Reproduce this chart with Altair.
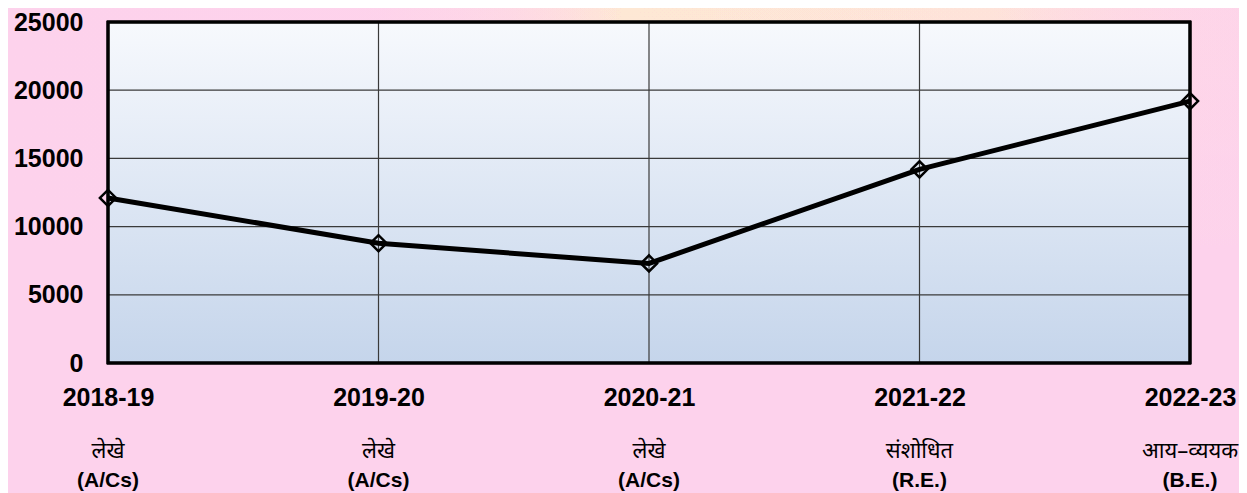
import altair as alt
import pandas as pd

years = ["2018-19", "2019-20", "2020-21", "2021-22", "2022-23"]
values = [12100, 8780, 7300, 14200, 19200]
hindi = ["लेखे", "लेखे", "लेखे", "संशोधित", "आय–व्ययक"]
english = ["(A/Cs)", "(A/Cs)", "(A/Cs)", "(R.E.)", "(B.E.)"]
y_ticks = [0, 5000, 10000, 15000, 20000, 25000]
grid_y = [5000, 10000, 15000, 20000]

W, H = 1082, 341
FONT = "Liberation Sans"
PAD = {"left": 100, "top": 14, "right": 49, "bottom": 130}

df = pd.DataFrame({"year": years, "value": values, "hindi": hindi, "english": english})
grid_df = pd.DataFrame({"value": grid_y})
vgrid_df = pd.DataFrame({"year": years[1:-1]})

xscale = alt.Scale(type="point", domain=years, padding=0)
yscale = alt.Scale(type="linear", domain=[0, 25000], nice=False)

x_axis = alt.Axis(title=None, grid=False, domain=False, ticks=False, tickSize=0, zindex=2,
                  labelFont=FONT, labelFontSize=25, labelFontWeight="bold",
                  labelColor="black", labelPadding=22, labelAngle=0, labelFlush=False)
y_axis = alt.Axis(title=None, grid=False, domain=False, ticks=False, tickSize=0, zindex=2,
                  values=y_ticks, format="d", labelFont=FONT, labelFontSize=25,
                  labelFontWeight="bold", labelColor="black", labelPadding=25,
                  labelFlush=False)

X = alt.X("year:N", scale=xscale, sort=years, axis=x_axis)
Y = alt.Y("value:Q", scale=yscale, axis=y_axis)

base = alt.Chart(df)

full = dict(x=alt.value(-PAD["left"]), x2=alt.value(W + PAD["right"]),
            y=alt.value(-PAD["top"]), y2=alt.value(H + PAD["bottom"]))

bg_pink = base.mark_rect(fill="#FDD2EC").encode(**full)
bg_peach = base.mark_rect(
    fill=alt.LinearGradient(gradient="linear", x1=0, y1=0, x2=0, y2=1,
                            stops=[alt.GradientStop(offset=0, color="rgba(254,232,212,1)"),
                                   alt.GradientStop(offset=0.2, color="rgba(254,228,220,0.7)"),
                                   alt.GradientStop(offset=0.5, color="rgba(253,214,232,0)"),
                                   alt.GradientStop(offset=1, color="rgba(253,210,236,0)")])
).encode(**full)
bg_side = base.mark_rect(
    fill=alt.LinearGradient(gradient="linear", x1=0, y1=0, x2=1, y2=0,
                            stops=[alt.GradientStop(offset=0, color="rgba(253,210,236,1)"),
                                   alt.GradientStop(offset=0.15, color="rgba(253,210,236,0.8)"),
                                   alt.GradientStop(offset=0.5, color="rgba(253,210,236,0)"),
                                   alt.GradientStop(offset=0.8, color="rgba(253,210,236,0.05)"),
                                   alt.GradientStop(offset=1, color="rgba(253,210,236,0.35)")])
).encode(**full)

plotbg = base.mark_rect(
    fill=alt.LinearGradient(gradient="linear", x1=0, y1=0, x2=0, y2=1,
                            stops=[alt.GradientStop(offset=0, color="#F7F9FD"),
                                   alt.GradientStop(offset=1, color="#C5D5EB")])
).encode(x=alt.value(0), x2=alt.value(W), y=alt.value(0), y2=alt.value(H))

hgrid = alt.Chart(grid_df).mark_rule(color="#3a3a3a", strokeWidth=1.2).encode(y=Y)
vgrid = alt.Chart(vgrid_df).mark_rule(color="#3a3a3a", strokeWidth=1.2).encode(x=X)

line = base.mark_line(color="black", strokeWidth=5).encode(x=X, y=Y)

pts = base.mark_point(shape="diamond", filled=False, color="black", strokeWidth=2.5,
                      size=260, opacity=1).encode(x=X, y=Y)

frame = base.mark_rect(filled=False, stroke="black", strokeWidth=2.5, fill=None).encode(
    x=alt.value(0), x2=alt.value(W), y=alt.value(0), y2=alt.value(H))

t_hindi = base.mark_text(font="Noto Sans", fontSize=22, color="black", baseline="middle").encode(
    x=X, y=alt.value(H + 88), text="hindi:N")
t_eng = base.mark_text(font=FONT, fontSize=21, fontWeight="bold", color="black",
                       baseline="middle").encode(
    x=X, y=alt.value(H + 118), text="english:N")

chart = alt.layer(bg_pink, bg_peach, bg_side, plotbg, hgrid, vgrid, line, pts, frame,
                  t_hindi, t_eng).properties(
    width=W, height=H,
    autosize=alt.AutoSizeParams(type="none"),
    padding=PAD,
    background="#FDD2EC",
).configure_view(stroke=None)

chart.save("out.html", embed_options={"renderer": "svg", "actions": False})
